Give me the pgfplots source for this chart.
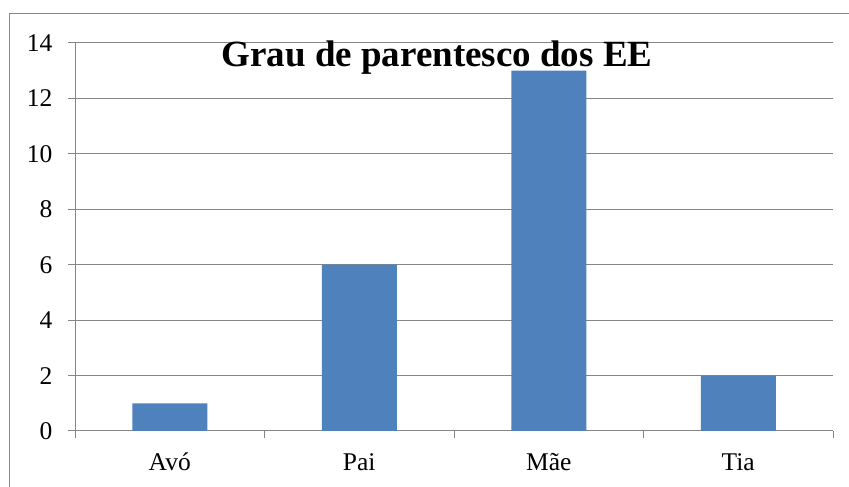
\documentclass[border=0pt]{standalone}
\usepackage{fontspec}
\setmainfont{Liberation Serif}
\usepackage{pgfplots}
\pgfplotsset{compat=1.18}
\definecolor{barblue}{HTML}{4F81BD}
\definecolor{gridgray}{HTML}{868686}

\begin{document}
\begin{tikzpicture}[x=1pt,y=1pt]
  \path[use as bounding box] (0,0) rectangle (849,487);
  \draw[gridgray, line width=1.2pt] (9.5,0) -- (9.5,473.5) -- (849,473.5);
  \begin{axis}[
    at={(75pt,56pt)}, anchor=south west,
    scale only axis, width=758pt, height=388pt,
    ybar, bar width=75pt,
    xmin=-0.5, xmax=3.5, ymin=0, ymax=14,
    xtick={-0.5,0.5,1.5,2.5,3.5},
    xticklabels={},
    extra x ticks={0,1,2,3},
    extra x tick labels={Avó, Pai, Mãe, Tia},
    extra x tick style={major tick length=0pt, grid=none,
      xticklabel style={anchor=base, yshift=-40pt}},
    ytick={0,2,...,14},
    axis x line=bottom, axis y line=left,
    axis line style={gridgray, line width=1pt, -},
    tick style={gridgray, line width=1pt},
    tick align=outside,
    major tick length=7pt,
    ymajorgrids,
    grid style={gridgray, line width=1pt},
    tick label style={font=\fontsize{25.5}{30}\selectfont, text=black},
    /pgf/number format/assume math mode=true,
    yticklabel style={xshift=-12pt},
  ]
    \addplot[fill=barblue, draw=none] coordinates {
      (0,1) (1,6) (2,13) (3,2)
    };
  \end{axis}
  \node[anchor=base, font=\fontsize{37}{42}\selectfont\bfseries] at (437,420) {Grau de parentesco dos EE};
\end{tikzpicture}
\end{document}
